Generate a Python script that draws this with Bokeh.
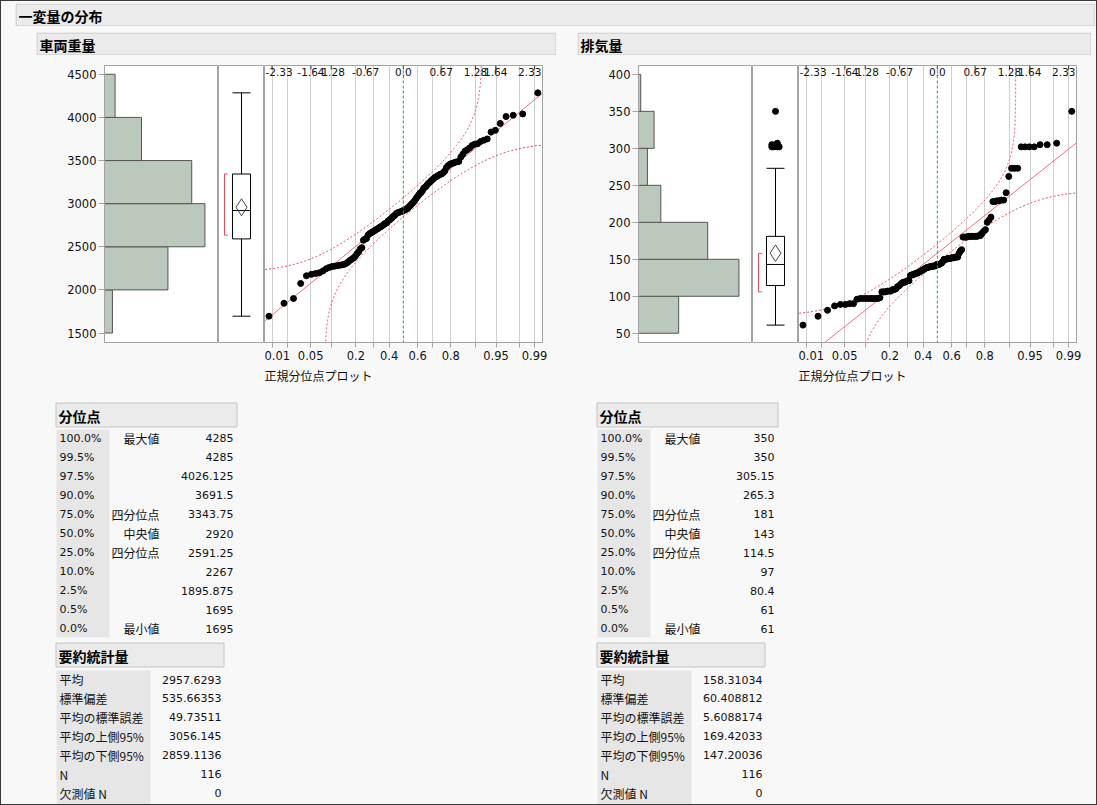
import numpy as np
from statistics import NormalDist
from bokeh.plotting import figure
from bokeh.models import Range1d, FixedTicker, CustomJSTickFormatter, Span, Title, Spacer
from bokeh.layouts import row, column
from bokeh.core.properties import value
from bokeh.embed import file_html
from bokeh.resources import INLINE

# ---------------- data ----------------
weight_values = [1695, 1845, 1900, 2075, 2164, 2180, 2190, 2200, 2220, 2245,
                 2260, 2270, 2275, 2280, 2285, 2290, 2295, 2305, 2320, 2340,
                 2355, 2370, 2390, 2420, 2440, 2475, 2490, 2575, 2590, 2595,
                 2635, 2650, 2660, 2670, 2680, 2690, 2700, 2710, 2720, 2730,
                 2740, 2750, 2765, 2770, 2780, 2800, 2810, 2820, 2835, 2850,
                 2860, 2875, 2890, 2895, 2900, 2905, 2910, 2915, 2925, 2930,
                 2935, 2945, 2960, 2975, 2990, 3005, 3020, 3040, 3060, 3080,
                 3100, 3120, 3130, 3150, 3180, 3190, 3205, 3225, 3240, 3255,
                 3270, 3285, 3300, 3310, 3320, 3330, 3340, 3345, 3360, 3380,
                 3420, 3440, 3455, 3465, 3470, 3480, 3485, 3490, 3540, 3575,
                 3610, 3625, 3646, 3675, 3690, 3695, 3720, 3735, 3750, 3830,
                 3850, 3930, 4010, 4025, 4040, 4285]
disp_values = [61, 73, 81, 87, 89, 89, 90, 90, 96, 97, 97, 97, 97, 97, 97, 97, 97, 98,
               106, 106, 106, 107, 107, 107, 109, 109, 110,
               113, 114, 116, 118, 119, 119, 120, 121, 121,
               128, 129, 129, 130, 131, 131, 132, 133,
               134, 135, 136, 137, 138, 139, 139, 140, 140, 140, 141, 141, 141,
               143, 143, 143, 144, 145, 147,
               150, 150, 150, 151, 151, 151, 152, 152, 152, 153, 153, 153,
               158, 161, 163,
               180, 180, 180, 180, 181, 181, 181, 181, 181, 181, 181, 182, 182,
               185, 188, 190,
               200, 203, 207,
               228, 228, 229, 229, 230, 230,
               240, 262, 273, 273, 273,
               302, 302, 302, 302, 305, 305, 307, 350]

weight_hist_edges = [1500, 2000, 2500, 3000, 3500, 4000, 4500]
disp_hist_edges = [50, 100, 150, 200, 250, 300, 350, 400]
weight_yticks = [1500, 2000, 2500, 3000, 3500, 4000, 4500]
disp_yticks = [50, 100, 150, 200, 250, 300, 350, 400]
weight_yrange = (1390, 4602)
disp_yrange = (37.5, 412)

quantile_pcts = ["100.0%", "99.5%", "97.5%", "90.0%", "75.0%", "50.0%",
                 "25.0%", "10.0%", "2.5%", "0.5%", "0.0%"]
quantile_names = ["最大値", "", "", "", "四分位点", "中央値", "四分位点", "", "", "", "最小値"]
weight_quantiles = [4285, 4285, 4026.125, 3691.5, 3343.75, 2920, 2591.25, 2267, 1895.875, 1695, 1695]
disp_quantiles = [350, 350, 305.15, 265.3, 181, 143, 114.5, 97, 80.4, 61, 61]

summary_names = ["平均", "標準偏差", "平均の標準誤差", "平均の上側95%", "平均の下側95%", "N", "欠測値 N"]
weight_summary = [2957.6293, 535.66353, 49.73511, 3056.145, 2859.1136, 116, 0]
disp_summary = [158.31034, 60.408812, 5.6088174, 169.42033, 147.20036, 116, 0]

qq_prob_labels = [0.01, 0.05, 0.2, 0.4, 0.6, 0.8, 0.95, 0.99]
qq_prob_minor = [0.02, 0.1, 0.3, 0.7, 0.9, 0.98]
qq_top_labels = ["-2.33", "-1.64", "-1.28", "-0.67", "0.0", "0.67", "1.28", "1.64", "2.33"]

report_title = "一変量の分布"
panel_titles = ["車両重量", "排気量"]
qq_title = "正規分位点プロット"

# ---------------- styling ----------------
ND = NormalDist()
BG = "#f8f8f8"
HEAD_FILL = "#ebebeb"
HEAD_LINE = "#c4c4c4"
COL_FILL = "#e6e6e6"
FRAME = "#a3a3a3"
GRID = "#cfcfcf"
RED = "#ee4257"
JP = "Noto Sans CJK JP"
NUM = "DejaVu Sans"

FR_TOP, FR_H, FR_BOT = 10, 277, 55


def fmt(v):
    v = float(v)
    return str(int(v)) if v.is_integer() else repr(v)


def deco(w, h):
    p = figure(width=w, height=h, x_range=Range1d(0, w), y_range=Range1d(h, 0),
               x_axis_type=None, y_axis_type=None, output_backend="svg",
               toolbar_location=None, min_border_left=0, min_border_right=0,
               min_border_top=0, min_border_bottom=0)
    p.grid.visible = False
    p.outline_line_color = None
    p.background_fill_color = BG
    p.border_fill_color = BG
    return p


def header(w, h, label):
    p = deco(w, h)
    p.quad(left=[0.5], right=[w - 0.5], top=[0.5], bottom=[h - 0.5],
           fill_color=HEAD_FILL, line_color=HEAD_LINE)
    p.text(x=[3], y=[h / 2 + 0.5], text=[label], text_font=value(JP),
           text_font_size="14px", text_font_style="bold", text_baseline="middle",
           text_color="#000000")
    return p


def plots(vals, edges, yticks, yrange, qvals, svals, left_border, right_border):
    vals = sorted(vals)
    n = len(vals)
    mean, sd, ci_hi, ci_lo = svals[0], svals[1], svals[3], svals[4]
    q3, med, q1 = qvals[4], qvals[5], qvals[6]
    yr = Range1d(*yrange)
    H = FR_TOP + FR_H + FR_BOT

    # histogram
    counts, _ = np.histogram(vals, bins=edges)
    hp = figure(width=left_border + 114, height=H, x_range=Range1d(0, counts.max() * 1.135),
                y_range=yr, x_axis_location=None, y_axis_location="left",
                output_backend="svg", toolbar_location=None,
                min_border_left=left_border, min_border_right=0,
                min_border_top=FR_TOP, min_border_bottom=FR_BOT)
    hp.grid.visible = False
    hp.background_fill_color = "#ffffff"
    hp.border_fill_color = BG
    hp.outline_line_color = FRAME
    hp.quad(left=0, right=counts, bottom=edges[:-1], top=edges[1:],
            fill_color="#bac9bb", line_color="#555555", line_width=1)
    ax = hp.yaxis[0]
    ax.ticker = FixedTicker(ticks=yticks)
    ax.axis_line_color = FRAME
    ax.major_tick_line_color = FRAME
    ax.major_tick_out = 6
    ax.major_tick_in = 0
    ax.minor_tick_line_color = None
    ax.major_label_standoff = 2
    ax.major_label_text_font = NUM
    ax.major_label_text_font_size = "11.5px"
    ax.major_label_text_color = "#111111"

    # box plot
    bp = figure(width=46, height=H, x_range=Range1d(0, 1), y_range=yr,
                x_axis_location=None, y_axis_location=None,
                output_backend="svg", toolbar_location=None,
                min_border_left=0, min_border_right=0,
                min_border_top=FR_TOP, min_border_bottom=FR_BOT)
    bp.grid.visible = False
    bp.background_fill_color = "#ffffff"
    bp.border_fill_color = BG
    bp.outline_line_color = FRAME
    iqr = q3 - q1
    hi_w = max(v for v in vals if v <= q3 + 1.5 * iqr)
    lo_w = min(v for v in vals if v >= q1 - 1.5 * iqr)
    outl = [v for v in vals if v > q3 + 1.5 * iqr or v < q1 - 1.5 * iqr]
    c, hw = 0.5, 0.196
    bp.quad(left=[c - hw], right=[c + hw], bottom=[q1], top=[q3],
            fill_color=None, line_color="#000000", line_width=1)
    bp.segment(x0=[c - hw, c, c, c - hw, c - hw], y0=[med, q3, q1, hi_w, lo_w],
               x1=[c + hw, c, c, c + hw, c + hw], y1=[med, hi_w, lo_w, hi_w, lo_w],
               line_color="#000000", line_width=1)
    dw = 0.12
    bp.patch(x=[c - dw, c, c + dw, c, c - dw], y=[mean, ci_hi, mean, ci_lo, mean],
             fill_color=None, line_color="#444444", line_width=1)
    k = int(np.ceil(n / 2))
    widths = [vals[i + k - 1] - vals[i] for i in range(n - k + 1)]
    i0 = int(np.argmin(widths))
    sh_lo, sh_hi = vals[i0], vals[i0 + k - 1]
    bx, bt = 0.13, 0.2
    bp.segment(x0=[bx, bx, bx], y0=[sh_lo, sh_lo, sh_hi], x1=[bx, bt, bt], y1=[sh_hi, sh_lo, sh_hi],
               line_color=RED, line_width=1)
    if outl:
        jit = [c + (((j * 3) % 5) - 2) * 0.04 if v != max(outl) else c for j, v in enumerate(outl)]
        bp.scatter(x=jit, y=outl, size=6, color="#000000")

    # normal quantile plot
    zmin, zmax = -2.464, 2.469
    qq = figure(width=278 + right_border, height=H, x_range=Range1d(zmin, zmax), y_range=yr,
                x_axis_location="below", y_axis_location=None,
                output_backend="svg", toolbar_location=None,
                min_border_left=0, min_border_right=right_border,
                min_border_top=FR_TOP, min_border_bottom=FR_BOT)
    qq.background_fill_color = "#ffffff"
    qq.border_fill_color = BG
    qq.outline_line_color = FRAME
    zmaj = [ND.inv_cdf(p) for p in qq_prob_labels]
    zmin_t = [ND.inv_cdf(p) for p in qq_prob_minor]
    ticker = FixedTicker(ticks=zmaj, minor_ticks=zmin_t)
    qq.ygrid.grid_line_color = None
    qq.xgrid.ticker = ticker
    qq.xgrid.grid_line_color = GRID
    qq.xgrid.minor_grid_line_color = GRID
    xa = qq.xaxis[0]
    xa.ticker = ticker
    xa.formatter = CustomJSTickFormatter(
        args=dict(zs=zmaj, labels=[str(p) for p in qq_prob_labels]),
        code="""
        let best = 0;
        for (let i = 0; i < zs.length; i++) {
            if (Math.abs(zs[i] - tick) < Math.abs(zs[best] - tick)) best = i;
        }
        return labels[best];
        """)
    xa.axis_line_color = FRAME
    xa.major_tick_line_color = FRAME
    xa.minor_tick_line_color = FRAME
    xa.major_tick_out = 5
    xa.major_tick_in = 0
    xa.minor_tick_out = 5
    xa.minor_tick_in = 0
    xa.major_label_standoff = 3
    xa.major_label_text_font = NUM
    xa.major_label_text_font_size = "11.5px"
    xa.major_label_text_color = "#111111"

    qq.add_layout(Span(location=0, dimension="height", line_color="#22b022",
                       line_dash="3 2", line_width=1))

    # confidence bands (Lilliefors)
    D = 0.886 / np.sqrt(n)
    t0 = ND.inv_cdf(ND.cdf(zmin - 0.2) + D) + 1e-6
    tu = np.linspace(t0, 5.5, 700)
    ux = [ND.inv_cdf(ND.cdf(t) - D) for t in tu]
    qq.line(x=ux, y=mean + sd * tu, line_color=RED, line_dash="2 2", line_width=1)
    t1 = ND.inv_cdf(ND.cdf(zmax + 0.2) - D) - 1e-6
    tl = np.linspace(-5.5, t1, 700)
    lx = [ND.inv_cdf(ND.cdf(t) + D) for t in tl]
    qq.line(x=lx, y=mean + sd * tl, line_color=RED, line_dash="2 2", line_width=1)

    # reference line
    rx = np.array([zmin - 0.2, zmax + 0.2])
    qq.line(x=rx, y=mean + sd * rx, line_color="#f0707e", line_width=1)

    # data points
    zs = [ND.inv_cdf((i + 1) / (n + 1)) for i in range(n)]
    qq.scatter(x=zs, y=vals, size=6, color="#000000")

    # top z labels with inner ticks
    zt = [float(s) for s in qq_top_labels]
    qq.scatter(x=zt, y=[yr.end] * len(zt), marker="dash", angle=np.pi / 2, size=8,
               line_color="#333333", line_width=1)
    tx = [zmin if i == 0 else (zmax if i == len(zt) - 1 else z) for i, z in enumerate(zt)]
    ta = ["left" if i == 0 else ("right" if i == len(zt) - 1 else "center") for i in range(len(zt))]
    qq.text(x=tx, y=[yr.end] * len(zt), text=qq_top_labels, text_font=value(NUM),
            text_font_size="10.5px", text_align=ta, text_baseline="top",
            x_offset=[1 if a == "left" else (-1 if a == "right" else 0) for a in ta],
            y_offset=2, text_color="#111111")

    qq.add_layout(Title(text=qq_title, align="left", text_font=JP, text_font_size="12px",
                        text_font_style="normal", text_color="#111111", standoff=4), "below")
    return row(hp, bp, qq)


def tables(w, h, qvals, svals):
    p = deco(w, h)
    # quantiles
    p.quad(left=[19.5], right=[200.5], top=[5.5], bottom=[29.5],
           fill_color=HEAD_FILL, line_color=HEAD_LINE)
    p.text(x=[22], y=[18], text=["分位点"], text_font=value(JP), text_font_size="14px",
           text_font_style="bold", text_baseline="middle", text_color="#000000")
    p.quad(left=[20], right=[73], top=[32], bottom=[240], fill_color=COL_FILL, line_color=None)
    ys = [40.7 + 19.06 * i for i in range(len(quantile_pcts))]
    p.text(x=[23] * len(ys), y=ys, text=quantile_pcts, text_font=value(NUM),
           text_font_size="11px", text_baseline="middle", text_color="#111111")
    p.text(x=[123] * len(ys), y=ys, text=quantile_names, text_font=value(JP),
           text_font_size="12px", text_baseline="middle", text_align="right", text_color="#111111")
    p.text(x=[197] * len(ys), y=ys, text=[fmt(v) for v in qvals], text_font=value(NUM),
           text_font_size="11px", text_baseline="middle", text_align="right", text_color="#111111")
    # summary statistics
    p.quad(left=[19.5], right=[187.5], top=[245.5], bottom=[269.5],
           fill_color=HEAD_FILL, line_color=HEAD_LINE)
    p.text(x=[22], y=[258], text=["要約統計量"], text_font=value(JP), text_font_size="14px",
           text_font_style="bold", text_baseline="middle", text_color="#000000")
    p.quad(left=[20], right=[114], top=[273], bottom=[h], fill_color=COL_FILL, line_color=None)
    ys2 = [282 + 18.95 * i for i in range(len(summary_names))]
    p.text(x=[23] * len(ys2), y=ys2, text=summary_names, text_font=value(JP),
           text_font_size="12px", text_baseline="middle", text_color="#111111")
    p.text(x=[185] * len(ys2), y=ys2, text=[fmt(v) for v in svals], text_font=value(NUM),
           text_font_size="11px", text_baseline="middle", text_align="right", text_color="#111111")
    return p


TABLE_H = 407
left_col = column(header(520, 23, panel_titles[0]),
                  plots(weight_values, weight_hist_edges, weight_yticks, weight_yrange,
                        weight_quantiles, weight_summary, 68, 35),
                  tables(541, TABLE_H, weight_quantiles, weight_summary))
right_col = column(header(514, 23, panel_titles[1]),
                   plots(disp_values, disp_hist_edges, disp_yticks, disp_yrange,
                         disp_quantiles, disp_summary, 61, 20),
                   tables(519, TABLE_H, disp_quantiles, disp_summary))

root = column(
    Spacer(width=1095, height=2),
    row(Spacer(width=14, height=23), header(1080, 23, report_title)),
    Spacer(width=10, height=6),
    row(Spacer(width=35, height=10), left_col, right_col),
    styles={"border": "1px solid #3a3a3a", "background-color": BG},
)

open("out.html", "w").write(file_html(root, INLINE))
